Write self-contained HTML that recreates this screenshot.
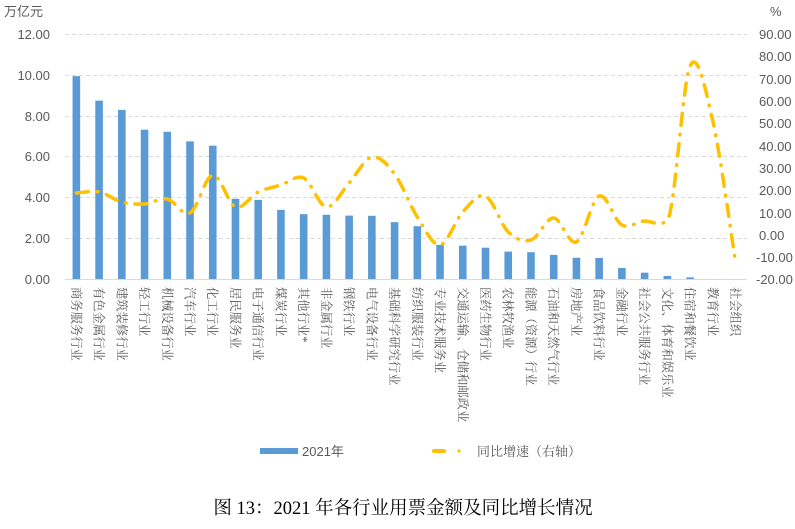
<!DOCTYPE html>
<html><head><meta charset="utf-8"><style>
body{margin:0;background:#fff;}
svg text{font-family:"Liberation Sans","Noto Sans CJK SC",sans-serif;}
svg text.s{font-family:"Liberation Serif","Noto Serif CJK SC",serif;}
</style></head><body>
<svg id="c" width="795" height="524" viewBox="0 0 795 524" xmlns="http://www.w3.org/2000/svg">
<rect width="795" height="524" fill="#fff"/>
<g stroke="#d9d9d9" stroke-width="1" stroke-dasharray="4 3">
<line x1="65" x2="747" y1="34.5" y2="34.5"/><line x1="65" x2="747" y1="75.5" y2="75.5"/>
<line x1="65" x2="747" y1="116.5" y2="116.5"/><line x1="65" x2="747" y1="156.5" y2="156.5"/>
<line x1="65" x2="747" y1="197.5" y2="197.5"/><line x1="65" x2="747" y1="238.5" y2="238.5"/>
</g>
<line x1="65" x2="747" y1="279.5" y2="279.5" stroke="#d9d9d9"/>
<g font-size="13" fill="#595959" text-anchor="end">
<text x="50" y="39">12.00</text><text x="50" y="80">10.00</text><text x="50" y="121">8.00</text>
<text x="50" y="161">6.00</text><text x="50" y="202">4.00</text><text x="50" y="243">2.00</text><text x="50" y="284">0.00</text>
</g>
<g font-size="13" fill="#595959" text-anchor="start">
<text x="759" y="39">90.00</text><text x="759" y="61">80.00</text><text x="759" y="84">70.00</text>
<text x="759" y="106">60.00</text><text x="759" y="128">50.00</text><text x="759" y="151">40.00</text>
<text x="759" y="173">30.00</text><text x="759" y="195">20.00</text><text x="759" y="218">10.00</text>
<text x="759" y="240">0.00</text><text x="756" y="262">-10.00</text><text x="756" y="284">-20.00</text>
</g>
<text x="4" y="16" font-size="13" fill="#595959">万亿元</text>
<text x="770" y="16" font-size="13" fill="#595959">%</text>
<g id="bars" fill="#5b9bd5"></g>
<path id="ln" fill="none" stroke="#ffc000" stroke-width="3.5" stroke-linecap="round" stroke-dasharray="12 9 0.5 9"/>
<g id="lbl" font-size="12.3" fill="#595959"></g>
<rect x="260" y="448" width="38" height="6" fill="#5b9bd5"/>
<text x="302" y="456" font-size="13" fill="#595959">2021年</text>
<line x1="434" x2="444" y1="451" y2="451" stroke="#ffc000" stroke-width="4" stroke-linecap="round"/>
<circle cx="459" cy="451" r="1.6" fill="#ffc000"/>
<text x="477" y="456" font-size="13" fill="#595959" class="s">同比增速（右轴）</text>
<text x="403" y="514" font-size="18.5" fill="#000" text-anchor="middle" class="s">图 13：2021 年各行业用票金额及同比增长情况</text>
</svg>
<script>
var names=["商务服务行业","有色金属行业","建筑装修行业","轻工行业","机械设备行业","汽车行业","化工行业","居民服务业","电子通信行业","煤炭行业","其他行业*","非金属行业","钢铁行业","电气设备行业","基础科学研究行业","纺织服装行业","专业技术服务业","交通运输、仓储和邮政业","医药生物行业","农林牧渔业","能源（资源）行业","石油和天然气行业","房地产业","食品饮料行业","金融行业","社会公共服务行业","文化、体育和娱乐业","住宿和餐饮业","教育行业","社会组织"];
var vals=[9.92,8.72,8.27,7.3,7.2,6.73,6.52,3.92,3.87,3.38,3.17,3.14,3.1,3.09,2.78,2.58,1.67,1.63,1.53,1.34,1.31,1.18,1.04,1.03,0.54,0.31,0.15,0.08,0,0];
var ly=[193,192,202,204,199,213,175,207,192,185,178,207,183,157,174,217,245,212,196,232,240,218,242,196,225,221,220,66,121,262];
var ns="http://www.w3.org/2000/svg",bars=document.getElementById("bars"),lbl=document.getElementById("lbl");
var pts=[];
for(var i=0;i<30;i++){var cx=65+22.73*(i+0.5);
 if(vals[i]>0){var h=vals[i]*20.45;var r=document.createElementNS(ns,"rect");r.setAttribute("x",cx-3.8);r.setAttribute("width",7.6);r.setAttribute("y",279-h);r.setAttribute("height",h);bars.appendChild(r);}
 var t=document.createElementNS(ns,"text");t.setAttribute("class","s");t.setAttribute("transform","translate("+(cx-4.5)+",287) rotate(90)");t.textContent=names[i];lbl.appendChild(t);
 pts.push([cx,ly[i]]);}
var d="M"+pts[0][0]+","+pts[0][1];
function k(i){return (i==26||i==25)?20:6;}
for(var i=0;i<pts.length-1;i++){var p0=pts[i-1]||pts[i],p1=pts[i],p2=pts[i+1],p3=pts[i+2]||p2;
 var a=k(i),b=k(i+1);
 var c1x=p1[0]+(p2[0]-p0[0])/6,c1y=p1[1]+(p2[1]-p0[1])/a,c2x=p2[0]-(p3[0]-p1[0])/6,c2y=p2[1]-(p3[1]-p1[1])/b;
 d+=" C"+c1x+","+c1y+" "+c2x+","+c2y+" "+p2[0]+","+p2[1];}
document.getElementById("ln").setAttribute("d",d);
</script>
</body></html>
